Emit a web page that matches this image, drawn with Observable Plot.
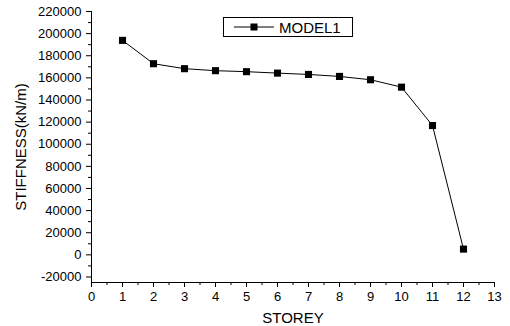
<!DOCTYPE html>
<html>
<head>
<meta charset="utf-8">
<script src="https://cdn.jsdelivr.net/npm/d3@7"></script>
<script src="https://cdn.jsdelivr.net/npm/@observablehq/plot@0.6"></script>
<style>
  html, body { margin: 0; padding: 0; background: #fff; }
  #wrap { position: relative; width: 510px; height: 326px; font-family: "Liberation Sans", Arial, sans-serif; }
  #legend { position: absolute; left: 223px; top: 17px; width: 128px; height: 18px; border: 1px solid #000; background: #fff; }
</style>
</head>
<body>
<div id="wrap"></div>
<script>
// Storey stiffness, MODEL1
const storeys = [1, 2, 3, 4, 5, 6, 7, 8, 9, 10, 11, 12];
const stiffness = [193900, 172800, 168300, 166500, 165600, 164300, 163100, 161300, 158300, 151600, 116900, 5200];
const xTicks = [0, 1, 2, 3, 4, 5, 6, 7, 8, 9, 10, 11, 12, 13];
const yTicks = [-20000, 0, 20000, 40000, 60000, 80000, 100000, 120000, 140000, 160000, 180000, 200000, 220000];
const seriesName = "MODEL1";

const data = storeys.map((s, i) => ({storey: s, k: stiffness[i]}));
const xMinor = xTicks.slice(0, -1).map(t => t + 0.5);
const yMinor = yTicks.slice(0, -1).map(t => t + 10000);
const yMin = -25000, yMax = 220000;

const chart = Plot.plot({
  width: 510,
  height: 326,
  marginLeft: 91,
  marginRight: 16,
  marginTop: 11,
  marginBottom: 44,
  style: {fontFamily: "'Liberation Sans', Arial, sans-serif", fontSize: "13px", color: "#000", background: "#fff"},
  x: {domain: [0, 13]},
  y: {domain: [yMin, yMax]},
  marks: [
    Plot.ruleX([0], {y1: yMin, y2: yMax, stroke: "#000", strokeWidth: 1}),
    Plot.ruleY([yMin], {x1: 0, x2: 13, stroke: "#000", strokeWidth: 1}),
    Plot.axisX({ticks: xTicks, tickSize: 5, tickPadding: 4, fontSize: 13, label: "STOREY", labelAnchor: "center", labelArrow: "none", labelOffset: 40}),
    Plot.axisX({ticks: xMinor, tickSize: 3, text: null, label: null}),
    Plot.axisY({ticks: yTicks, tickSize: 5, tickPadding: 5, fontSize: 13, tickFormat: d => String(d), label: "STIFFNESS(kN/m)", labelAnchor: "center", labelArrow: "none", labelOffset: 76}),
    Plot.axisY({ticks: yMinor, tickSize: 3, text: null, label: null}),
    Plot.line(data, {x: "storey", y: "k", stroke: "#000", strokeWidth: 1}),
    Plot.dot(data, {x: "storey", y: "k", symbol: "square", r: 4, fill: "#000", stroke: "none"})
  ]
});

// axis labels a bit larger than tick labels
chart.querySelectorAll("[aria-label='x-axis label'] text, [aria-label='y-axis label'] text").forEach(t => t.setAttribute("font-size", "15"));

const wrap = document.getElementById("wrap");
wrap.appendChild(chart);

const legend = document.createElement("div");
legend.id = "legend";
legend.innerHTML = `<svg width="128" height="18" style="display:block">
  <line x1="10" x2="50" y1="9" y2="9" stroke="#000" stroke-width="1"/>
  <rect x="26.5" y="5.5" width="7" height="7" fill="#000"/>
  <text x="55" y="14.5" font-size="15" font-family="'Liberation Sans', Arial, sans-serif">${seriesName}</text>
</svg>`;
wrap.appendChild(legend);
</script>
</body>
</html>
